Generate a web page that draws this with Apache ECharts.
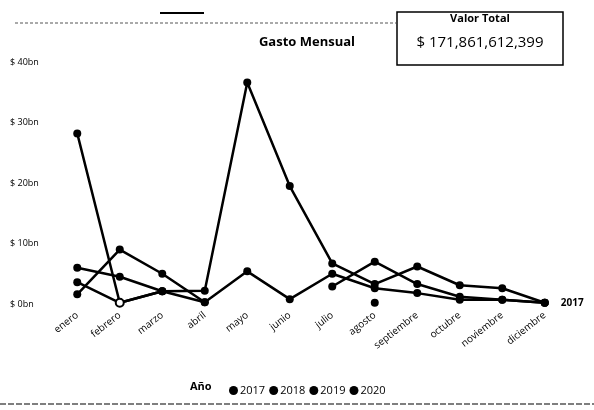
<!DOCTYPE html>
<html>
<head>
<meta charset="utf-8">
<script src="https://cdn.jsdelivr.net/npm/echarts@6/dist/echarts.min.js"></script>
<style>html,body{margin:0;padding:0;background:#fff;}#c{width:594px;height:410px;}</style>
</head>
<body>
<div id="c"></div>
<script>
var months = ['enero','febrero','marzo','abril','mayo','junio','julio','agosto','septiembre','octubre','noviembre','diciembre'];
var years = ['2017','2018','2019','2020'];
// values in billions
var v2017 = [6.0, 4.5, 2.1, null, null, null, 2.9, 7.0, 3.3, 1.2, 0.7, 0.2];
var v2018 = [28.2, 0.2, 2.1, 2.2, 36.6, 19.5, 6.7, 3.3, 6.2, 3.1, 2.6, 0.2];
var v2019 = [1.6, 9.0, 5.0, 0.3, 5.4, 0.8, 5.0, 2.6, 1.8, 0.7, 0.7, 0.2];
var v2020 = [3.6, 0.2, 2.1, 0.3, null, null, null, 0.2, null, null, null, null];
var yTicks = ['$ 0bn','$ 10bn','$ 20bn','$ 30bn','$ 40bn'];
var totalText = '$ 171,861,612,399';

var FONT = '"Open Sans", "Noto Sans", sans-serif';
function mk(name, data, extra) {
  var s = {
    name: name, type: 'line', data: data, connectNulls: false,
    symbol: 'circle', symbolSize: 8,
    lineStyle: {color: '#000', width: 2.5},
    itemStyle: {color: '#000'},
    emphasis: {disabled: true}, animation: false, z: 2
  };
  for (var k in extra) s[k] = extra[k];
  return s;
}
var d2018 = v2018.map(function (v, i) {
  return i === 1 ? {value: v, itemStyle: {color: '#fff', borderColor: '#000', borderWidth: 2}} : v;
});
var chart = echarts.init(document.getElementById('c'));
chart.setOption({
  animation: false,
  backgroundColor: '#fff',
  title: {text: 'Gasto Mensual', left: 302, top: 31, textAlign: 'center',
    textStyle: {fontFamily: FONT, fontSize: 13, fontWeight: 'bold', color: '#000'}},
  legend: {
    data: years, left: 224, top: 380, itemWidth: 9, itemHeight: 9, itemGap: 4,
    icon: 'circle',
    textStyle: {fontFamily: FONT, fontSize: 11, color: '#000', padding: [0, 0, 0, -3]}
  },
  grid: {left: 56, right: 28, top: 62, bottom: 106},
  xAxis: {
    type: 'category', data: months, boundaryGap: true,
    axisLine: {show: false}, axisTick: {show: false},
    axisLabel: {rotate: 38, fontFamily: FONT, fontSize: 10, color: '#000', margin: 10, interval: 0}
  },
  yAxis: {
    type: 'value', min: 0, max: 40, interval: 10,
    splitLine: {show: false}, axisLine: {show: false}, axisTick: {show: false},
    axisLabel: {fontFamily: FONT, fontSize: 9, color: '#000', align: 'left', margin: 46,
      formatter: function (v) { return yTicks[v / 10]; }}
  },
  series: [
    mk('2020', v2020, {}),
    mk('2019', v2019, {}),
    mk('2017', v2017, {endLabel: {show: true, formatter: '{a}', distance: 16,
      fontFamily: FONT, fontSize: 10, fontWeight: 'bold', color: '#000'}}),
    mk('2018', d2018, {z: 3})
  ],
  color: ['#000', '#000', '#000', '#000'],
  graphic: [
    {type: 'rect', shape: {x: 397, y: 12, width: 166, height: 53},
      style: {fill: '#fff', stroke: '#000', lineWidth: 1.5}},
    {type: 'text', style: {text: 'Valor Total', x: 480, y: 13, align: 'center',
      font: 'bold 11px ' + FONT, fill: '#000'}},
    {type: 'text', style: {text: totalText, x: 480, y: 35, align: 'center',
      font: '15px ' + FONT, fill: '#000'}},
    {type: 'text', style: {text: 'Año', x: 190, y: 381, font: 'bold 11px ' + FONT, fill: '#000'}},
    {type: 'rect', shape: {x: 160, y: 12, width: 44, height: 2}, style: {fill: '#000'}},
    {type: 'line', shape: {x1: 15, y1: 23, x2: 396, y2: 23},
      style: {stroke: '#555', lineWidth: 1, lineDash: [3, 2]}},
    {type: 'line', shape: {x1: 0, y1: 404, x2: 594, y2: 404},
      style: {stroke: '#555', lineWidth: 1.5, lineDash: [6, 2]}}
  ]
});
</script>
</body>
</html>
